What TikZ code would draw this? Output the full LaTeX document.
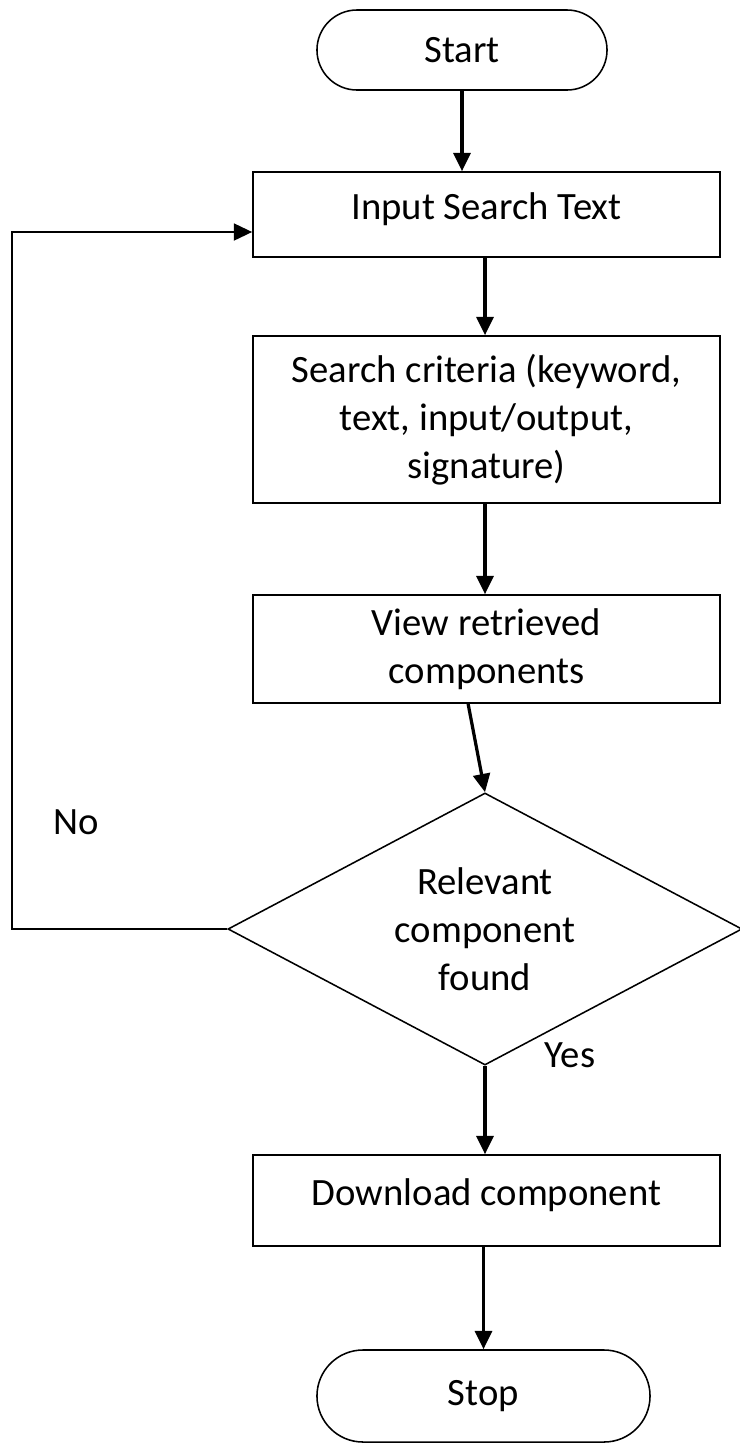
\documentclass[tikz,border=0pt]{standalone}
\usepackage{fontspec}
\setmainfont{Carlito}
\usetikzlibrary{shapes.geometric,shapes.misc,arrows.meta}
\begin{document}
\begin{tikzpicture}[x=.025cm, y=-.025cm,
    font=\fontsize{27.5}{34}\selectfont,
    box/.style={draw, line width=1.1pt, minimum width=11.675cm, align=center, inner sep=0pt},
    term/.style={draw, line width=1.1pt, rounded rectangle, inner sep=0pt},
    arr/.style={line width=2.3pt, -{Triangle[width=12pt,length=13pt]}}]
   \useasboundingbox (0,0) rectangle (740,1443);
   % terminals and steps
   \node[term, minimum width=7.25cm, minimum height=2cm] (start) at (462,50) {Start};
   \node[box, minimum height=2.125cm, text depth=12pt] (input) at (486.5,214.5) {Input Search Text};
   \node[box, minimum height=4.175cm] (search) at (486.5,419.5) {Search criteria (keyword,\\text, input/output,\\signature)};
   \node[box, minimum height=2.7cm] (view) at (486.5,649) {View retrieved\\components};
   \node[draw, line width=1.1pt, diamond, aspect=1.89, minimum width=12.85cm, minimum height=6.8cm,
         inner sep=0pt, align=center] (found) at (485,929) {Relevant\\component\\found};
   \node[box, minimum height=2.275cm, text depth=12pt] (download) at (486.5,1200.5) {Download component};
   \node[term, minimum width=8.325cm, minimum height=2.3cm] (stop) at (483.5,1396) {Stop};
   \node (no) at (76,822) {No};
   \node (yes) at (570,1055) {Yes};
   \coordinate (back) at (12,232);
   % arrows
   \draw[arr] (start.south) -- (start.south |- input.north);
   \draw[arr] (input.south -| found.north) -- (search.north -| found.north);
   \draw[arr] (search.south -| found.north) -- (view.north -| found.north);
   \draw[arr] ([xshift=-.46cm]view.south) -- (found.north);
   \draw[arr, line width=1.6pt] (found.west) -| (back) -- (back -| input.west);
   \draw[arr] (found.south) -- (download.north -| found.south);
   \draw[arr] (download.south -| stop.north) -- (stop.north);
\end{tikzpicture}
\end{document}
